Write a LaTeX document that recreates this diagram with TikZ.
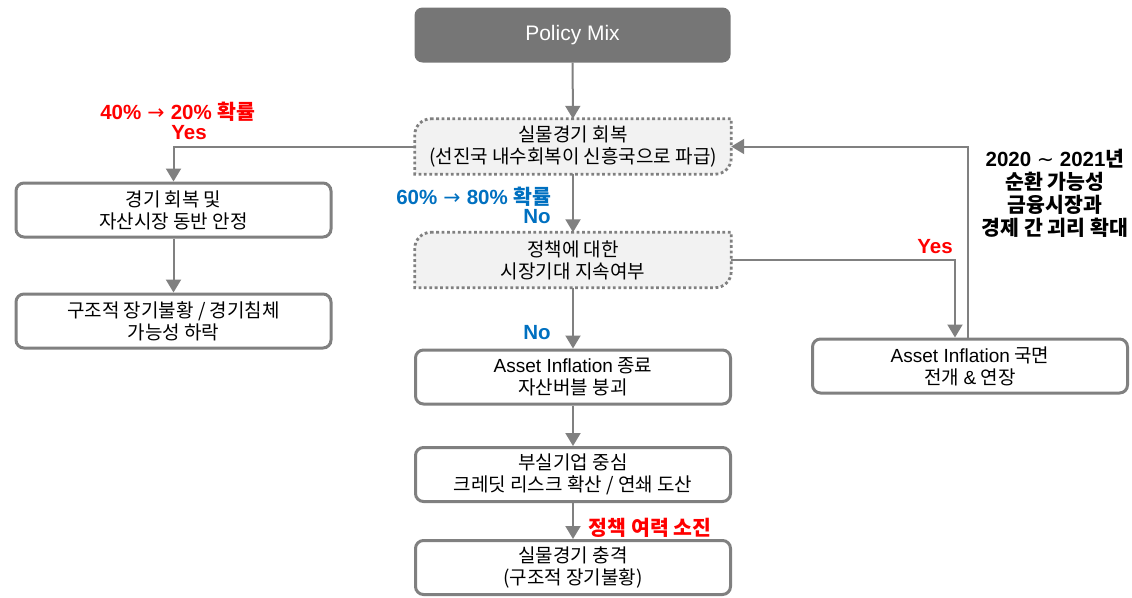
\documentclass[tikz,border=0pt]{standalone}
\usepackage{fontspec}
\setmainfont{Noto Sans CJK KR}
\newfontfamily\lat{Liberation Sans}
\newfontfamily\dvs{DejaVu Sans}
\usetikzlibrary{arrows.meta,backgrounds}
\definecolor{boxgray}{HTML}{808080}
\definecolor{pmgray}{HTML}{767676}
\definecolor{dotfill}{HTML}{F2F2F2}
\definecolor{lblred}{HTML}{FF0000}
\definecolor{lblblue}{HTML}{0070C0}
\newcommand\rdcbox[1]{\draw[dotline] ([xshift=16pt]#1.north west) -- (#1.north east) -- ([yshift=16pt]#1.south east) arc[start angle=0,end angle=-90,radius=16pt] -- (#1.south west) -- ([yshift=-16pt]#1.north west) arc[start angle=180,end angle=90,radius=16pt] -- cycle;}
\newcommand\larr{\hspace{0.3em}{\dvs\mdseries →}\hspace{0.3em}}
\begin{document}
\begin{tikzpicture}[x=1pt,y=-1pt,
  every node/.style={font=\fontsize{19}{22}\selectfont, align=center, inner sep=0pt, text=black},
  sbox/.style={draw=boxgray, line width=3pt, rounded corners=8pt, fill=white, minimum width=315pt, minimum height=54pt},
  pmbox/.style={fill=pmgray, rounded corners=8pt, minimum width=316pt, minimum height=55pt, text=white, font=\fontsize{21}{24}\selectfont},
  dbox/.style={minimum width=316pt, minimum height=55pt},
  dotline/.style={draw=boxgray, fill=dotfill, line width=2.8pt, dash pattern=on 2.8pt off 2.6pt},
  arr/.style={draw=boxgray, line width=2pt, -{Triangle[length=13pt,width=15pt]}},
  lbl/.style={font=\fontsize{20.5}{23}\selectfont\bfseries}
]
\useasboundingbox (0,0) rectangle (1132,597);

\node[pmbox] (pm) at (572.5,35) {\lat Policy Mix};
\node[dbox] (b1) at (573,146.5) {실물경기 회복\\(선진국 내수회복이 신흥국으로 파급)};
\node[dbox] (b2) at (573,260) {정책에 대한\\시장기대 지속여부};
\begin{scope}[on background layer]
\rdcbox{b1}
\rdcbox{b2}
\end{scope}
\node[sbox] (l1) at (173.5,210) {경기 회복 및\\자산시장 동반 안정};
\node[sbox] (l2) at (173.5,321) {구조적 장기불황 / 경기침체\\가능성 하락};
\node[sbox] (a1) at (573,377) {{\lat Asset Inflation} 종료\\자산버블 붕괴};
\node[sbox] (r1) at (970,366) {{\lat Asset Inflation} 국면\\전개 {\lat\&} 연장};
\node[sbox] (c1) at (573,474.5) {부실기업 중심\\크레딧 리스크 확산 / 연쇄 도산};
\node[sbox] (c2) at (573,567.5) {실물경기 충격\\(구조적 장기불황)};

\coordinate (r1in) at ([xshift=-15pt]r1.north);
\coordinate (r1out) at ([xshift=-2pt]r1.north);

\draw[arr] (pm) -- (b1);
\draw[arr] (b1.west) -| (l1.north);
\draw[arr] (l1) -- (l2);
\draw[arr] (b1) -- (b2);
\draw[arr] (b2) -- (a1);
\draw[arr] (b2.east) -| (r1in);
\draw[arr] (r1out) |- (b1.east);
\draw[arr] (a1) -- (c1);
\draw[arr] (c1) -- (c2);

\node[lbl, text=lblred] (t1) at (178,112) {{\lat\bfseries 40\%\larr 20\%}\hspace{0.3em}확률};
\node[lbl, text=lblred] (t2) at (189,133) {\lat\bfseries Yes};
\node[lbl, text=lblblue] (t3) at (474,197) {{\lat\bfseries 60\%\larr 80\%}\hspace{0.3em}확률};
\node[lbl, text=lblblue] (t4) at (537,217) {\lat\bfseries No};
\node[lbl, text=lblblue] (t5) at (537,333) {\lat\bfseries No};
\node[lbl, text=lblred] (t6) at (935,247) {\lat\bfseries Yes};
\node[lbl] (t7) at (1055,193) {{\lat\bfseries 2020 {\dvs\mdseries ∼} 2021}년\\순환 가능성\\금융시장과\\경제 간 괴리 확대};
\node[lbl, text=lblred] (t8) at (650,528) {정책 여력 소진};
\end{tikzpicture}
\end{document}
